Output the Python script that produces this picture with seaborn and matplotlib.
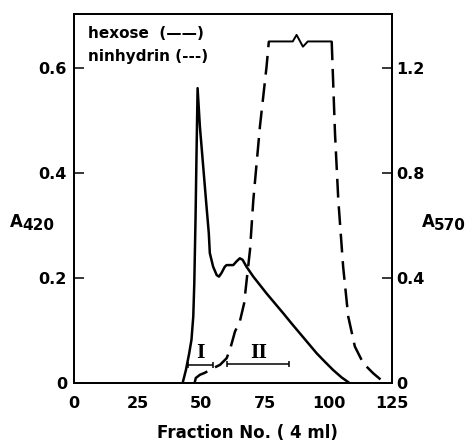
import matplotlib
matplotlib.use("Agg")
import matplotlib.pyplot as plt
import seaborn as sns
import numpy as np
import pandas as pd

sns.set_theme(style="white")
plt.rcParams['font.family'] = ['DejaVu Sans']
plt.rcParams['text.color'] = 'black'
plt.rcParams['axes.labelcolor'] = 'black'
plt.rcParams['xtick.color'] = 'black'
plt.rcParams['ytick.color'] = 'black'

# hexose (A420, left axis)
hex_x = [42.7, 44.0, 45.3, 46.2, 46.9, 47.3, 47.8, 48.2, 48.6, 49.5, 50.8, 52.1, 53.0, 53.4,
         54.7, 56.1, 57.0, 58.0, 59.3, 60.0, 62.6, 63.9, 65.2, 66.3, 67.8, 70.5, 73.1, 75.7,
         79.0, 82.3, 85.5, 88.8, 92.1, 95.4, 98.6, 101.9, 105.2, 108.4]
hex_y = [0.0, 0.025, 0.057, 0.083, 0.127, 0.19, 0.317, 0.444, 0.562, 0.489, 0.413, 0.337, 0.286, 0.248,
         0.222, 0.206, 0.203, 0.21, 0.222, 0.225, 0.225, 0.232, 0.238, 0.235, 0.222, 0.203, 0.187, 0.171,
         0.152, 0.133, 0.114, 0.095, 0.076, 0.057, 0.041, 0.025, 0.011, 0.0]

# ninhydrin (A570, right axis)
nin_x = [47.4, 47.9, 49.5, 51.5, 54.7, 57.4, 60.0, 61.3, 63.3, 65.2, 66.9, 67.9, 69.2, 70.5,
         73.1, 75.7, 76.6,
         86.0, 87.5, 90.0, 91.9, 101.3,
         102.6, 103.9, 105.8, 107.8, 110.4, 113.7, 117.6, 121.5, 123.0]
nin_y = [0.0, 0.02, 0.032, 0.040, 0.057, 0.070, 0.095, 0.127, 0.197, 0.235, 0.305, 0.394, 0.508, 0.698,
         0.978, 1.206, 1.302,
         1.302, 1.327, 1.282, 1.302, 1.302,
         0.952, 0.698, 0.444, 0.254, 0.140, 0.076, 0.038, 0.006, 0.0]
plateau = (76.6, 101.3)

# fraction brackets
frac_names = ["I", "II"]
frac_start = [44.9, 60.2]
frac_end = [54.7, 84.6]
frac_y = [0.035, 0.036]

x_ticks = [0, 25, 50, 75, 100, 125]
left_ticks = [0, 0.2, 0.4, 0.6]
left_labels = ["0", "0.2", "0.4", "0.6"]
right_ticks = [0, 0.4, 0.8, 1.2]
right_labels = ["0", "0.4", "0.8", "1.2"]

fig = plt.figure(figsize=(4.65, 4.42), dpi=100)
ax = fig.add_axes([0.159, 0.133, 0.684, 0.835])
ax2 = ax.twinx()

hex_df = pd.DataFrame({"x": hex_x, "y": hex_y})
nin_df = pd.DataFrame({"x": nin_x, "y": nin_y})

sns.lineplot(data=hex_df, x="x", y="y", ax=ax, color="black", lw=1.8, sort=False)
left_part = nin_df[nin_df.x <= plateau[0]]
right_part = nin_df[nin_df.x >= plateau[1]]
top_part = nin_df[(nin_df.x >= plateau[0]) & (nin_df.x <= plateau[1])]
for part in (left_part, right_part):
    sns.lineplot(data=part, x="x", y="y", ax=ax2, color="black", lw=1.8, sort=False)
    ax2.lines[-1].set_dashes((7.5, 3.5))
sns.lineplot(data=top_part, x="x", y="y", ax=ax2, color="black", lw=1.4, sort=False)

for name, s, e, yv in zip(frac_names, frac_start, frac_end, frac_y):
    ax.hlines(yv, s, e, color="black", lw=1.1)
    ax.vlines([s, e], yv - 0.006, yv + 0.006, color="black", lw=1.1)
    ax.text((s + e) / 2, yv + 0.005, name, ha="center", va="bottom",
            fontsize=13, fontweight="bold", family="DejaVu Serif")

ax.set_xlim(0, 125)
ax.set_ylim(0, 0.703)
ax2.set_ylim(0, 1.406)
ax.set_xticks(x_ticks)
ax.set_xticklabels([str(t) for t in x_ticks])
ax.set_yticks(left_ticks)
ax.set_yticklabels(left_labels)
ax2.set_yticks(right_ticks)
ax2.set_yticklabels(right_labels)
ax.set_xlabel("")
ax.set_ylabel("")
ax2.set_ylabel("")

for a in (ax, ax2):
    for sp in a.spines.values():
        sp.set_color("black")
        sp.set_linewidth(1.3)
    a.tick_params(direction="in", length=7, width=1.1, colors="black", labelsize=11.5)
    for lab in a.get_xticklabels() + a.get_yticklabels():
        lab.set_fontweight("bold")
        lab.set_color("black")
ax.tick_params(axis="x", pad=9)
ax.tick_params(axis="y", pad=5)
ax2.tick_params(axis="y", pad=3)

fig.text(10 / 465, 1 - 222 / 442, "A", fontsize=12, fontweight="bold", va="center", ha="left")
fig.text(22 / 465, 1 - 226 / 442, "420", fontsize=11, fontweight="bold", va="center", ha="left")
fig.text(422 / 465, 1 - 222 / 442, "A", fontsize=12, fontweight="bold", va="center", ha="left")
fig.text(434 / 465, 1 - 226 / 442, "570", fontsize=11, fontweight="bold", va="center", ha="left")

fig.text(88 / 465, 1 - 34 / 442, "hexose  (——)", fontsize=11, fontweight="bold", va="center", ha="left")
fig.text(88 / 465, 1 - 57 / 442, "ninhydrin (---)", fontsize=11, fontweight="bold", va="center", ha="left")

fig.text(247 / 465, 1 - 433 / 442, "Fraction No. ( 4 ml)", fontsize=12, fontweight="bold",
         va="center", ha="center")

fig.savefig("out.png", dpi=100, facecolor="white")
